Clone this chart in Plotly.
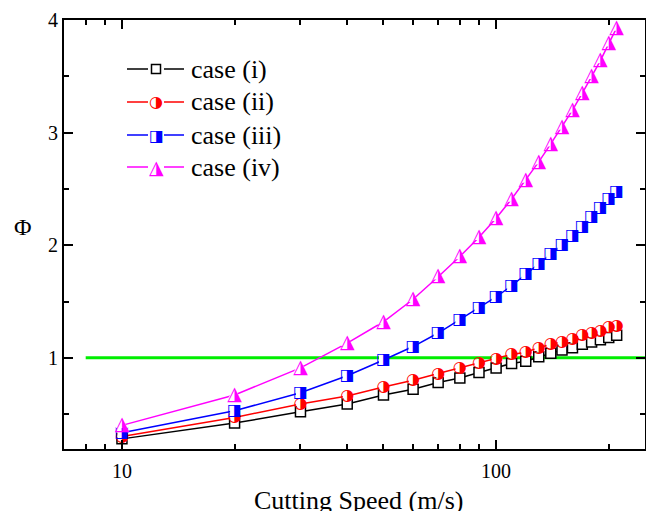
import math
import plotly.graph_objects as go

# ---------------- data ----------------
speed = [10, 20, 30, 40, 50, 60, 70, 80, 90, 100, 110, 120, 130, 140, 150,
         160, 170, 180, 190, 200, 210]
case_i = [0.28, 0.42, 0.52, 0.59, 0.67, 0.72, 0.78, 0.82, 0.87, 0.91, 0.95,
          0.97, 1.01, 1.04, 1.07, 1.09, 1.12, 1.14, 1.16, 1.18, 1.20]
case_ii = [0.30, 0.47, 0.59, 0.66, 0.74, 0.80, 0.86, 0.91, 0.95, 0.99, 1.03,
           1.05, 1.09, 1.12, 1.14, 1.17, 1.20, 1.22, 1.24, 1.27, 1.28]
case_iii = [0.335, 0.53, 0.69, 0.84, 0.98, 1.10, 1.22, 1.34, 1.44, 1.54, 1.64,
            1.74, 1.83, 1.92, 2.00, 2.08, 2.16, 2.25, 2.33, 2.41, 2.47]
case_iv = [0.40, 0.67, 0.91, 1.13, 1.32, 1.52, 1.72, 1.90, 2.07, 2.24, 2.41,
           2.58, 2.74, 2.90, 3.05, 3.20, 3.35, 3.50, 3.64, 3.79, 3.93]
threshold_x = [8, 250]
threshold_y = [1, 1]
labels = ["case (i)", "case (ii)", "case (iii)", "case (iv)"]
x_ticks = [10, 100]
x_minor = [8, 9, 20, 30, 40, 50, 60, 70, 80, 90, 200]
y_ticks = [1, 2, 3, 4]
y_minor = [0.5, 1.5, 2.5, 3.5]

# ---------------- geometry helpers (layout only) ----------------
W, H = 646, 511
L, R, T, B = 64, 645, 20, 449


def px(xp):
    return (xp - L) / (R - L)


def py(yp):
    return (B - yp) / (B - T)


SERIF = "Liberation Serif, Times New Roman, Times, serif"
GLYPH_FONT = "DejaVu Sans"

fig = go.Figure()

fig.add_trace(go.Scatter(x=threshold_x, y=threshold_y, mode="lines",
                         line=dict(color="#00ee00", width=3), hoverinfo="skip"))

# case (i): open squares
fig.add_trace(go.Scatter(x=speed, y=case_i, mode="lines+markers",
                         line=dict(color="black", width=1.5),
                         marker=dict(symbol="square", size=10, color="white",
                                     line=dict(color="black", width=1.5))))

series = [
    (case_ii, "#ff0000", "circle", 9, "\u25D1", 16),
    (case_iii, "#0000ff", "square", 9, "\u25E8", 16),
    (case_iv, "#ff00ff", "triangle-up", 11, "\u25EE", 19),
]
for vals, col, sym, msize, glyph, gsize in series:
    fig.add_trace(go.Scatter(x=speed, y=vals, mode="lines+markers",
                             line=dict(color=col, width=1.5),
                             marker=dict(symbol=sym, size=msize, color="white",
                                         line=dict(color="white", width=0))))
    fig.add_trace(go.Scatter(x=speed, y=vals, mode="text",
                             text=[glyph] * len(speed),
                             textposition="middle center",
                             textfont=dict(family=GLYPH_FONT, size=gsize, color=col),
                             hoverinfo="skip"))

# ---------------- manual legend ----------------
rows = [69, 102, 135, 167]
colors = ["black", "#ff0000", "#0000ff", "#ff00ff"]
glyphs = [None, ("\u25D1", 16), ("\u25E8", 16), ("\u25EE", 19)]
shapes = []
annotations = []
for yrow, col, g, lab in zip(rows, colors, glyphs, labels):
    for x0, x1 in [(127, 148), (164, 184)]:
        shapes.append(dict(type="line", xref="paper", yref="paper",
                           x0=px(x0), x1=px(x1), y0=py(yrow), y1=py(yrow),
                           line=dict(color=col, width=1.5)))
    if g is None:
        shapes.append(dict(type="rect", xref="paper", yref="paper",
                           x0=px(151.5), x1=px(160.5), y0=py(yrow + 4.5), y1=py(yrow - 4.5),
                           line=dict(color="black", width=1.5), fillcolor="white"))
    else:
        annotations.append(dict(xref="paper", yref="paper", x=px(156), y=py(yrow),
                                text=g[0], showarrow=False, xanchor="center", yanchor="middle",
                                font=dict(family=GLYPH_FONT, size=g[1], color=col)))
    annotations.append(dict(xref="paper", yref="paper", x=px(189), y=py(yrow),
                            text=lab, showarrow=False, xanchor="left", yanchor="middle",
                            font=dict(family=SERIF, size=26, color="black")))

# axis titles
annotations.append(dict(xref="paper", yref="paper", x=px(358), y=py(500),
                        text="Cutting Speed (m/s)", showarrow=False,
                        xanchor="center", yanchor="middle",
                        font=dict(family=SERIF, size=26, color="black")))
annotations.append(dict(xref="paper", yref="paper", x=px(23), y=py(227),
                        text="\u03A6", showarrow=False,
                        xanchor="center", yanchor="middle",
                        font=dict(family=SERIF, size=24, color="black")))

axis_common = dict(showline=True, linewidth=2, linecolor="black", mirror="ticks",
                   ticks="inside", ticklen=9, tickwidth=1.5, tickcolor="black",
                   showgrid=False, zeroline=False,
                   tickfont=dict(family=SERIF, size=20, color="black"))

fig.update_layout(
    width=W, height=H,
    margin=dict(l=L, r=W - R, t=T, b=H - B, autoexpand=False),
    plot_bgcolor="white", paper_bgcolor="white",
    font=dict(family=SERIF, color="black"),
    showlegend=False,
    shapes=shapes, annotations=annotations,
    xaxis=dict(type="log", range=[math.log10(7.0), math.log10(250)],
               tickvals=x_ticks, ticktext=[str(v) for v in x_ticks],
               ticklabelstandoff=3,
               minor=dict(tickvals=x_minor, ticks="inside", ticklen=5, tickwidth=1.5,
                          tickcolor="black", showgrid=False),
               automargin=False, **axis_common),
    yaxis=dict(range=[0.19, 4.0], tickvals=y_ticks, ticktext=[str(v) for v in y_ticks],
               minor=dict(tickvals=y_minor, ticks="inside", ticklen=5, tickwidth=1.5,
                          tickcolor="black", showgrid=False),
               automargin=False, **axis_common),
)

fig.write_html("out.html",
               config={"displayModeBar": False},
               post_script="document.body.style.margin='0';document.body.style.overflow='hidden';")
